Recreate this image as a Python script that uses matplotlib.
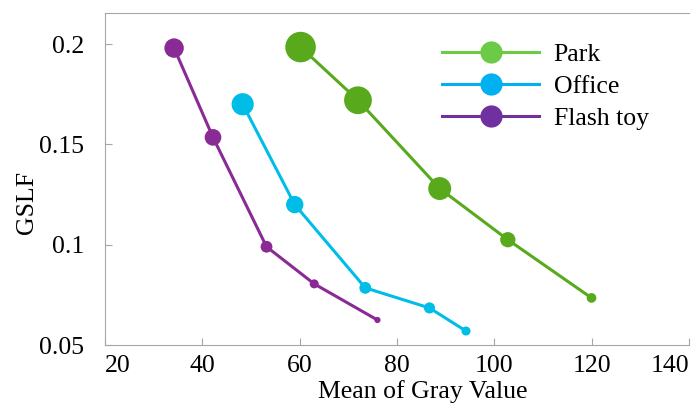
import matplotlib
matplotlib.use("Agg")
import matplotlib.pyplot as plt
from matplotlib.lines import Line2D

plt.rcParams["font.family"] = ["Liberation Serif", "DejaVu Serif"]

park_x = [60.2, 72.0, 88.8, 102.8, 120.0]
park_y = [0.1985, 0.172, 0.128, 0.1025, 0.0735]
park_size = [22.0, 20.0, 16.5, 11.0, 7.0]

office_x = [48.3, 59.0, 73.5, 86.7, 94.2]
office_y = [0.170, 0.120, 0.0785, 0.0685, 0.057]
office_size = [16.0, 12.5, 8.5, 8.0, 6.5]

flash_x = [34.2, 42.2, 53.2, 63.0, 76.0]
flash_y = [0.198, 0.1535, 0.099, 0.0805, 0.0625]
flash_size = [14.0, 12.0, 8.5, 6.5, 4.5]

series = [
    ("Park", park_x, park_y, park_size, "#58aa1c", "#6ccb46"),
    ("Office", office_x, office_y, office_size, "#00bde8", "#00b0f0"),
    ("Flash toy", flash_x, flash_y, flash_size, "#8a2a95", "#7030a0"),
]

fig = plt.figure(figsize=(7, 4.05), dpi=100)
ax = fig.add_axes([0.15, 0.148, 0.834, 0.82])

handles = []
for name, xs, ys, sz, col, legcol in series:
    ax.plot(xs, ys, color=col, lw=2.2, zorder=2)
    ax.scatter(xs, ys, s=[v ** 2 for v in sz], color=col, edgecolors="none", zorder=3)
    handles.append(Line2D([], [], color=legcol, lw=2.2, marker="o", markersize=16,
                          markeredgewidth=0, label=name))

ax.set_xlim(20, 140)
ax.set_ylim(0.05, 0.2155)
ax.set_xticks([20, 40, 60, 80, 100, 120, 140])
ax.set_yticks([0.05, 0.1, 0.15, 0.2])
ax.set_yticklabels(["0.05", "0.1", "0.15", "0.2"])

for s in ["left", "bottom", "top"]:
    ax.spines[s].set_color("#a6a6a6")
ax.spines["right"].set_visible(False)
ax.tick_params(direction="in", length=5, color="#a6a6a6", labelsize=18.5)
ax.tick_params(axis="y", pad=15)
ax.tick_params(axis="x", pad=7)
xl = ax.get_xticklabels()
xl[0].set_horizontalalignment("left")
xl[-1].set_horizontalalignment("right")

ax.set_xlabel("Mean of Gray Value", fontsize=18.5)
ax.xaxis.set_label_coords(0.545, -0.105)
ax.set_ylabel("GSLF", fontsize=18.5)
ax.yaxis.set_label_coords(-0.115, 0.43)

ax.legend(handles=handles, loc="upper left", bbox_to_anchor=(0.546, 0.965),
          frameon=False, fontsize=18.5, handlelength=3.8, labelspacing=0.35,
          handletextpad=0.55, borderpad=0.2)

fig.savefig("out.png", dpi=100)
